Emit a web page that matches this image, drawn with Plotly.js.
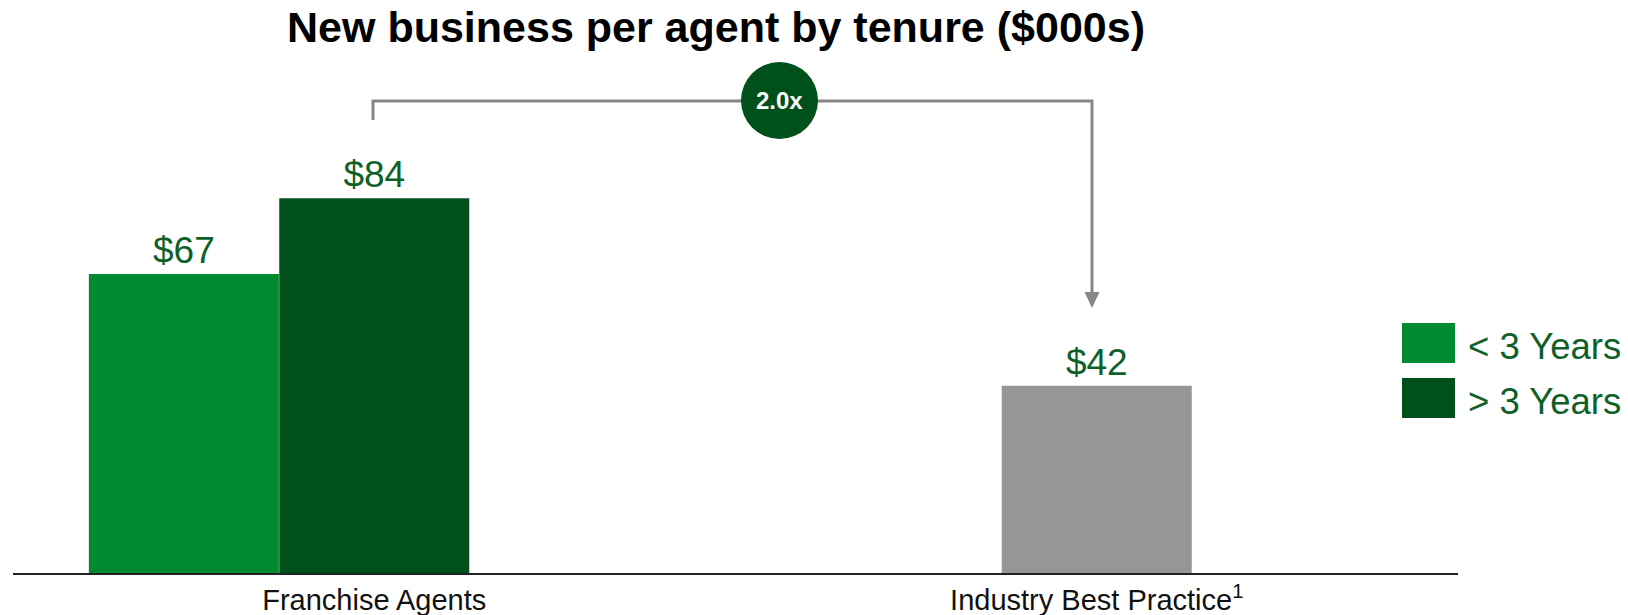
<!DOCTYPE html>
<html>
<head>
<meta charset="utf-8">
<script src="https://cdn.plot.ly/plotly-3.0.1.min.js"></script>
<style>html,body{margin:0;padding:0;background:#fff;}#chart{width:1628px;height:615px;}</style>
</head>
<body>
<div id="chart"></div>
<script>
// ---- data ----
const categories = ["Franchise Agents", "Industry Best Practice"];
const tickLabels = ["Franchise Agents", "Industry Best Practice<sup>1</sup>"];
const tenureSeries = ["< 3 Years", "> 3 Years"];
const franchiseValues = [67, 84];
const industryValues = [42];
const multipleLabel = "2.0x";
const chartTitle = "New business per agent by tenure ($000s)";

// ---- styles ----
const FONT = "Liberation Sans, Arial, sans-serif";
const GREEN = "#008A30";
const DARK = "#00501C";
const GRAY = "#969696";
const LABEL = "#0F5F28";
const LINE = "#868686";

const W = 1628, H = 615;
const ML = 13, MR = 170, MT = 60, MB = 42;
const PW = W - ML - MR, PH = H - MT - MB;
const px = x => (x - ML) / PW;
const py = y => (H - MB - y) / PH;

const money = v => "$" + v;
const labelFont = {family: FONT, size: 37, color: LABEL};
const legendFont = {family: FONT, size: 36.5, color: LABEL};
const BW = 0.263;

const traces = [
  {type: "bar", name: tenureSeries[0], x: [categories[0]], y: [franchiseValues[0]],
   width: [BW], offset: [-0.395], marker: {color: GREEN},
   text: [money(franchiseValues[0])], textposition: "outside", textfont: labelFont,
   cliponaxis: false, hoverinfo: "skip"},
  {type: "bar", name: tenureSeries[1], x: [categories[0]], y: [franchiseValues[1]],
   width: [BW], offset: [-0.1315], marker: {color: DARK},
   text: [money(franchiseValues[1])], textposition: "outside", textfont: labelFont,
   cliponaxis: false, hoverinfo: "skip"},
  {type: "bar", name: categories[1], x: [categories[1]], y: industryValues,
   width: [BW], offset: [-0.1315], marker: {color: GRAY},
   text: industryValues.map(money), textposition: "outside", textfont: labelFont,
   cliponaxis: false, hoverinfo: "skip"}
];

const shapes = [
  {type: "path", xref: "paper", yref: "paper",
   path: `M ${px(373)},${py(120)} L ${px(373)},${py(101)} L ${px(1092)},${py(101)} L ${px(1092)},${py(292)}`,
   line: {color: LINE, width: 3}},
  {type: "path", xref: "paper", yref: "paper",
   path: `M ${px(1084.5)},${py(292)} L ${px(1099.5)},${py(292)} L ${px(1092)},${py(308)} Z`,
   fillcolor: LINE, line: {width: 0}},
  {type: "circle", xref: "paper", yref: "paper",
   x0: px(741), x1: px(818), y0: py(139), y1: py(62),
   fillcolor: DARK, line: {width: 0}},
  {type: "rect", xref: "paper", yref: "paper",
   x0: px(1402), x1: px(1455), y0: py(363), y1: py(323), fillcolor: GREEN, line: {width: 0}},
  {type: "rect", xref: "paper", yref: "paper",
   x0: px(1402), x1: px(1455), y0: py(418), y1: py(378), fillcolor: DARK, line: {width: 0}}
];

const annotations = [
  {xref: "paper", yref: "paper", x: px(779.5), y: py(100.5), text: "<b>" + multipleLabel + "</b>",
   showarrow: false, xanchor: "center", yanchor: "middle",
   font: {family: FONT, size: 24, color: "#ffffff"}},
  {xref: "paper", yref: "paper", x: px(1466), y: py(346), text: tenureSeries[0],
   showarrow: false, xanchor: "left", yanchor: "middle", font: legendFont},
  {xref: "paper", yref: "paper", x: px(1466), y: py(401), text: tenureSeries[1],
   showarrow: false, xanchor: "left", yanchor: "middle", font: legendFont}
];

const layout = {
  width: W, height: H,
  margin: {l: ML, r: MR, t: MT, b: MB, pad: 0},
  paper_bgcolor: "#ffffff", plot_bgcolor: "#ffffff",
  barmode: "overlay",
  showlegend: false,
  title: {text: "<b>" + chartTitle + "</b>", font: {family: FONT, size: 43, color: "#000000"},
          x: 716 / W, xref: "container", xanchor: "center", y: 1 - 27 / H, yref: "container", yanchor: "middle"},
  xaxis: {type: "category", categoryorder: "array", categoryarray: categories,
          range: [-0.5, 1.5], tickvals: categories, ticktext: tickLabels,
          showgrid: false, zeroline: false, showline: true, linecolor: "#222222", linewidth: 2,
          ticks: "", automargin: false, fixedrange: true,
          tickfont: {family: FONT, size: 29, color: "#111111"}},
  yaxis: {range: [0, 115], visible: false, showgrid: false, zeroline: false, fixedrange: true},
  shapes: shapes,
  annotations: annotations,
  font: {family: FONT}
};

Plotly.newPlot("chart", traces, layout, {displayModeBar: false, staticPlot: true});
</script>
</body>
</html>
